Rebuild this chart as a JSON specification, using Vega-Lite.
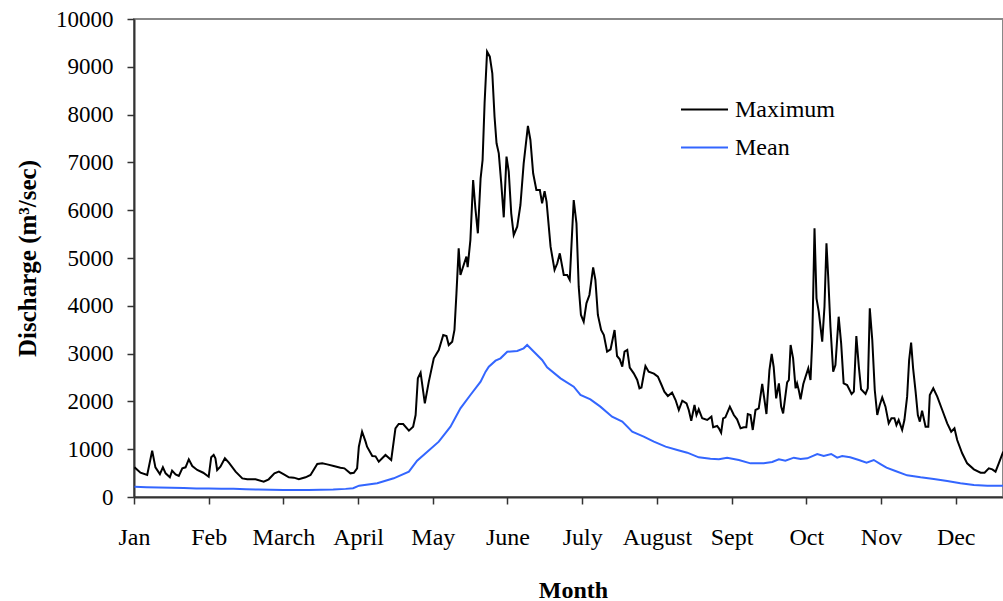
{
  "$schema": "https://vega.github.io/schema/vega-lite/v6.json",
  "width": 869,
  "height": 478,
  "autosize": {"type": "none"},
  "padding": {"left": 134, "top": 19, "right": 0, "bottom": 104},
  "background": "white",
  "config": {
    "view": {"stroke": "#888888", "strokeWidth": 2},
    "font": "Liberation Serif"
  },
  "data": {"values": [
{"series":"Maximum","day":0.2,"q":621},{"series":"Maximum","day":2.6,"q":508},{"series":"Maximum","day":5.3,"q":460},{"series":"Maximum","day":7.3,"q":969},{"series":"Maximum","day":8.6,"q":621},{"series":"Maximum","day":10.4,"q":480},{"series":"Maximum","day":11.6,"q":621},{"series":"Maximum","day":12.7,"q":495},{"series":"Maximum","day":14.4,"q":412},{"series":"Maximum","day":15.3,"q":551},{"series":"Maximum","day":16.7,"q":474},{"series":"Maximum","day":18.0,"q":440},{"series":"Maximum","day":19.4,"q":600},{"series":"Maximum","day":20.7,"q":621},{"series":"Maximum","day":22.0,"q":788},{"series":"Maximum","day":23.4,"q":649},{"series":"Maximum","day":25.4,"q":565},{"series":"Maximum","day":27.8,"q":508},{"series":"Maximum","day":30.0,"q":425},{"series":"Maximum","day":31.0,"q":830},{"series":"Maximum","day":32.0,"q":879},{"series":"Maximum","day":32.7,"q":809},{"series":"Maximum","day":33.4,"q":565},{"series":"Maximum","day":34.7,"q":635},{"series":"Maximum","day":36.5,"q":809},{"series":"Maximum","day":38.1,"q":718},{"series":"Maximum","day":40.8,"q":530},{"series":"Maximum","day":43.5,"q":390},{"series":"Maximum","day":45.5,"q":370},{"series":"Maximum","day":48.8,"q":370},{"series":"Maximum","day":52.1,"q":321},{"series":"Maximum","day":54.1,"q":370},{"series":"Maximum","day":56.4,"q":495},{"series":"Maximum","day":58.2,"q":530},{"series":"Maximum","day":60.2,"q":474},{"series":"Maximum","day":62.2,"q":412},{"series":"Maximum","day":64.2,"q":405},{"series":"Maximum","day":66.2,"q":370},{"series":"Maximum","day":68.9,"q":412},{"series":"Maximum","day":70.9,"q":460},{"series":"Maximum","day":73.6,"q":690},{"series":"Maximum","day":75.6,"q":704},{"series":"Maximum","day":77.6,"q":683},{"series":"Maximum","day":80.2,"q":649},{"series":"Maximum","day":82.9,"q":614},{"series":"Maximum","day":84.5,"q":600},{"series":"Maximum","day":86.9,"q":495},{"series":"Maximum","day":88.3,"q":508},{"series":"Maximum","day":89.6,"q":600},{"series":"Maximum","day":90.3,"q":1053},{"series":"Maximum","day":91.6,"q":1367},{"series":"Maximum","day":93.0,"q":1158},{"series":"Maximum","day":93.6,"q":1053},{"series":"Maximum","day":95.7,"q":858},{"series":"Maximum","day":97.0,"q":851},{"series":"Maximum","day":98.3,"q":739},{"series":"Maximum","day":101.0,"q":879},{"series":"Maximum","day":103.3,"q":774},{"series":"Maximum","day":105.0,"q":1437},{"series":"Maximum","day":106.3,"q":1527},{"series":"Maximum","day":108.1,"q":1527},{"series":"Maximum","day":110.4,"q":1388},{"series":"Maximum","day":112.1,"q":1472},{"series":"Maximum","day":113.1,"q":1715},{"series":"Maximum","day":114.0,"q":2483},{"series":"Maximum","day":115.1,"q":2601},{"series":"Maximum","day":116.8,"q":1960},{"series":"Maximum","day":118.4,"q":2413},{"series":"Maximum","day":120.4,"q":2901},{"series":"Maximum","day":122.4,"q":3075},{"series":"Maximum","day":124.2,"q":3389},{"series":"Maximum","day":125.5,"q":3368},{"series":"Maximum","day":126.4,"q":3180},{"series":"Maximum","day":127.8,"q":3250},{"series":"Maximum","day":128.7,"q":3494},{"series":"Maximum","day":129.5,"q":4261},{"series":"Maximum","day":130.4,"q":5202},{"series":"Maximum","day":131.1,"q":4644},{"series":"Maximum","day":132.4,"q":4854},{"series":"Maximum","day":133.5,"q":5028},{"series":"Maximum","day":134.0,"q":4808},{"series":"Maximum","day":135.1,"q":5377},{"series":"Maximum","day":136.2,"q":6632},{"series":"Maximum","day":137.1,"q":6040},{"series":"Maximum","day":138.1,"q":5517},{"series":"Maximum","day":139.2,"q":6667},{"series":"Maximum","day":140.0,"q":7050},{"series":"Maximum","day":140.8,"q":8236},{"series":"Maximum","day":141.8,"q":9316},{"series":"Maximum","day":142.9,"q":9212},{"series":"Maximum","day":143.9,"q":8864},{"series":"Maximum","day":144.8,"q":7956},{"series":"Maximum","day":145.6,"q":7399},{"series":"Maximum","day":146.5,"q":7190},{"series":"Maximum","day":147.5,"q":6562},{"series":"Maximum","day":148.5,"q":5851},{"series":"Maximum","day":149.6,"q":7120},{"series":"Maximum","day":150.5,"q":6806},{"series":"Maximum","day":151.5,"q":5935},{"series":"Maximum","day":152.5,"q":5481},{"series":"Maximum","day":153.9,"q":5655},{"series":"Maximum","day":155.2,"q":6109},{"series":"Maximum","day":156.5,"q":6981},{"series":"Maximum","day":158.2,"q":7762},{"series":"Maximum","day":159.2,"q":7469},{"series":"Maximum","day":160.3,"q":6772},{"series":"Maximum","day":161.6,"q":6423},{"series":"Maximum","day":163.0,"q":6423},{"series":"Maximum","day":163.9,"q":6144},{"series":"Maximum","day":164.9,"q":6400},{"series":"Maximum","day":165.7,"q":6175},{"series":"Maximum","day":167.3,"q":5237},{"series":"Maximum","day":168.9,"q":4749},{"series":"Maximum","day":170.0,"q":4889},{"series":"Maximum","day":171.0,"q":5098},{"series":"Maximum","day":172.6,"q":4644},{"series":"Maximum","day":174.0,"q":4644},{"series":"Maximum","day":175.0,"q":4540},{"series":"Maximum","day":176.6,"q":6213},{"series":"Maximum","day":177.7,"q":5725},{"series":"Maximum","day":178.6,"q":4400},{"series":"Maximum","day":179.5,"q":3808},{"series":"Maximum","day":180.6,"q":3668},{"series":"Maximum","day":181.7,"q":4052},{"series":"Maximum","day":182.9,"q":4226},{"series":"Maximum","day":184.4,"q":4805},{"series":"Maximum","day":185.3,"q":4540},{"series":"Maximum","day":186.3,"q":3808},{"series":"Maximum","day":187.6,"q":3494},{"series":"Maximum","day":188.7,"q":3389},{"series":"Maximum","day":190.0,"q":3040},{"series":"Maximum","day":191.4,"q":3090},{"series":"Maximum","day":193.0,"q":3494},{"series":"Maximum","day":194.0,"q":2950},{"series":"Maximum","day":195.1,"q":2880},{"series":"Maximum","day":196.1,"q":2726},{"series":"Maximum","day":197.0,"q":3040},{"series":"Maximum","day":198.1,"q":3075},{"series":"Maximum","day":199.1,"q":2706},{"series":"Maximum","day":200.7,"q":2587},{"series":"Maximum","day":202.1,"q":2448},{"series":"Maximum","day":203.0,"q":2274},{"series":"Maximum","day":203.8,"q":2290},{"series":"Maximum","day":204.7,"q":2552},{"series":"Maximum","day":205.4,"q":2741},{"series":"Maximum","day":206.7,"q":2622},{"series":"Maximum","day":208.8,"q":2580},{"series":"Maximum","day":210.4,"q":2517},{"series":"Maximum","day":211.7,"q":2364},{"series":"Maximum","day":213.0,"q":2203},{"series":"Maximum","day":214.4,"q":2113},{"series":"Maximum","day":216.1,"q":2183},{"series":"Maximum","day":217.5,"q":2029},{"series":"Maximum","day":218.8,"q":1820},{"series":"Maximum","day":220.2,"q":2015},{"series":"Maximum","day":221.9,"q":1960},{"series":"Maximum","day":222.8,"q":1820},{"series":"Maximum","day":223.8,"q":1596},{"series":"Maximum","day":225.1,"q":1925},{"series":"Maximum","day":225.9,"q":1715},{"series":"Maximum","day":226.8,"q":1834},{"series":"Maximum","day":228.2,"q":1646},{"series":"Maximum","day":230.2,"q":1611},{"series":"Maximum","day":231.9,"q":1680},{"series":"Maximum","day":232.6,"q":1458},{"series":"Maximum","day":234.2,"q":1485},{"series":"Maximum","day":234.9,"q":1437},{"series":"Maximum","day":235.8,"q":1346},{"series":"Maximum","day":236.6,"q":1646},{"series":"Maximum","day":237.5,"q":1667},{"series":"Maximum","day":239.3,"q":1890},{"series":"Maximum","day":240.9,"q":1715},{"series":"Maximum","day":242.2,"q":1625},{"series":"Maximum","day":243.6,"q":1437},{"series":"Maximum","day":244.9,"q":1458},{"series":"Maximum","day":245.9,"q":1458},{"series":"Maximum","day":246.5,"q":1736},{"series":"Maximum","day":247.6,"q":1715},{"series":"Maximum","day":248.5,"q":1402},{"series":"Maximum","day":249.6,"q":1820},{"series":"Maximum","day":250.9,"q":1855},{"series":"Maximum","day":252.3,"q":2364},{"series":"Maximum","day":254.0,"q":1736},{"series":"Maximum","day":255.2,"q":2657},{"series":"Maximum","day":256.1,"q":2992},{"series":"Maximum","day":256.9,"q":2720},{"series":"Maximum","day":257.9,"q":2064},{"series":"Maximum","day":259.0,"q":2378},{"series":"Maximum","day":259.9,"q":1890},{"series":"Maximum","day":260.7,"q":1750},{"series":"Maximum","day":262.3,"q":2400},{"series":"Maximum","day":263.0,"q":2448},{"series":"Maximum","day":263.7,"q":3180},{"series":"Maximum","day":264.7,"q":2901},{"series":"Maximum","day":265.7,"q":2274},{"series":"Maximum","day":266.3,"q":2378},{"series":"Maximum","day":267.0,"q":2231},{"series":"Maximum","day":267.7,"q":2043},{"series":"Maximum","day":268.8,"q":2364},{"series":"Maximum","day":269.7,"q":2517},{"series":"Maximum","day":270.8,"q":2692},{"series":"Maximum","day":271.7,"q":2448},{"series":"Maximum","day":272.4,"q":3285},{"series":"Maximum","day":273.3,"q":5621},{"series":"Maximum","day":274.1,"q":4157},{"series":"Maximum","day":275.0,"q":3877},{"series":"Maximum","day":276.4,"q":3250},{"series":"Maximum","day":277.3,"q":3981},{"series":"Maximum","day":278.1,"q":5307},{"series":"Maximum","day":278.8,"q":4609},{"series":"Maximum","day":279.7,"q":3563},{"series":"Maximum","day":280.8,"q":2622},{"series":"Maximum","day":281.7,"q":2762},{"series":"Maximum","day":283.0,"q":3772},{"series":"Maximum","day":284.0,"q":3215},{"series":"Maximum","day":285.0,"q":2378},{"series":"Maximum","day":286.4,"q":2343},{"series":"Maximum","day":288.2,"q":2155},{"series":"Maximum","day":289.1,"q":2203},{"series":"Maximum","day":290.1,"q":3368},{"series":"Maximum","day":291.1,"q":2726},{"series":"Maximum","day":292.0,"q":2253},{"series":"Maximum","day":293.8,"q":2155},{"series":"Maximum","day":294.7,"q":2274},{"series":"Maximum","day":295.5,"q":3947},{"series":"Maximum","day":296.5,"q":3285},{"series":"Maximum","day":297.5,"q":2238},{"series":"Maximum","day":298.5,"q":1715},{"series":"Maximum","day":299.5,"q":1925},{"series":"Maximum","day":300.5,"q":2085},{"series":"Maximum","day":301.8,"q":1890},{"series":"Maximum","day":303.1,"q":1541},{"series":"Maximum","day":304.2,"q":1646},{"series":"Maximum","day":305.4,"q":1646},{"series":"Maximum","day":306.2,"q":1506},{"series":"Maximum","day":307.1,"q":1611},{"series":"Maximum","day":308.5,"q":1402},{"series":"Maximum","day":309.4,"q":1611},{"series":"Maximum","day":310.5,"q":2099},{"series":"Maximum","day":311.3,"q":2866},{"series":"Maximum","day":312.1,"q":3229},{"series":"Maximum","day":312.9,"q":2692},{"series":"Maximum","day":313.9,"q":2203},{"series":"Maximum","day":314.8,"q":1715},{"series":"Maximum","day":315.6,"q":1576},{"series":"Maximum","day":316.5,"q":1806},{"series":"Maximum","day":317.9,"q":1471},{"series":"Maximum","day":319.0,"q":1471},{"series":"Maximum","day":319.6,"q":2134},{"series":"Maximum","day":321.0,"q":2274},{"series":"Maximum","day":322.6,"q":2099},{"series":"Maximum","day":324.6,"q":1820},{"series":"Maximum","day":326.6,"q":1541},{"series":"Maximum","day":328.2,"q":1367},{"series":"Maximum","day":329.5,"q":1437},{"series":"Maximum","day":330.6,"q":1192},{"series":"Maximum","day":332.6,"q":914},{"series":"Maximum","day":334.6,"q":704},{"series":"Maximum","day":337.3,"q":579},{"series":"Maximum","day":340.0,"q":509},{"series":"Maximum","day":341.6,"q":509},{"series":"Maximum","day":343.3,"q":600},{"series":"Maximum","day":344.7,"q":579},{"series":"Maximum","day":346.0,"q":530},{"series":"Maximum","day":347.3,"q":704},{"series":"Maximum","day":349.1,"q":948},
{"series":"Mean","day":0.2,"q":215},{"series":"Mean","day":5,"q":205},{"series":"Mean","day":10,"q":200},{"series":"Mean","day":15,"q":195},{"series":"Mean","day":20,"q":190},{"series":"Mean","day":25,"q":180},{"series":"Mean","day":30,"q":178},{"series":"Mean","day":35,"q":175},{"series":"Mean","day":40,"q":170},{"series":"Mean","day":45,"q":162},{"series":"Mean","day":50,"q":158},{"series":"Mean","day":55,"q":150},{"series":"Mean","day":60,"q":146},{"series":"Mean","day":65,"q":145},{"series":"Mean","day":70,"q":148},{"series":"Mean","day":75,"q":150},{"series":"Mean","day":80,"q":155},{"series":"Mean","day":85,"q":170},{"series":"Mean","day":88,"q":185},{"series":"Mean","day":90.4,"q":237},{"series":"Mean","day":97.7,"q":286},{"series":"Mean","day":104.3,"q":391},{"series":"Mean","day":110.4,"q":530},{"series":"Mean","day":113.7,"q":760},{"series":"Mean","day":117.8,"q":948},{"series":"Mean","day":122.4,"q":1158},{"series":"Mean","day":127.1,"q":1471},{"series":"Mean","day":131.1,"q":1855},{"series":"Mean","day":135.1,"q":2134},{"series":"Mean","day":139.2,"q":2413},{"series":"Mean","day":141.2,"q":2622},{"series":"Mean","day":142.5,"q":2726},{"series":"Mean","day":145.2,"q":2852},{"series":"Mean","day":147.2,"q":2901},{"series":"Mean","day":149.9,"q":3040},{"series":"Mean","day":153.9,"q":3054},{"series":"Mean","day":156.5,"q":3110},{"series":"Mean","day":157.9,"q":3180},{"series":"Mean","day":160.6,"q":3040},{"series":"Mean","day":163.9,"q":2866},{"series":"Mean","day":165.9,"q":2713},{"series":"Mean","day":171.3,"q":2483},{"series":"Mean","day":176.6,"q":2308},{"series":"Mean","day":179.3,"q":2134},{"series":"Mean","day":183.3,"q":2043},{"series":"Mean","day":187.3,"q":1890},{"series":"Mean","day":192.0,"q":1680},{"series":"Mean","day":196.1,"q":1576},{"series":"Mean","day":200.1,"q":1367},{"series":"Mean","day":204.7,"q":1262},{"series":"Mean","day":208.8,"q":1158},{"series":"Mean","day":213.5,"q":1053},{"series":"Mean","day":218.2,"q":983},{"series":"Mean","day":222.2,"q":927},{"series":"Mean","day":226.8,"q":830},{"series":"Mean","day":231.5,"q":802},{"series":"Mean","day":234.9,"q":788},{"series":"Mean","day":238.2,"q":823},{"series":"Mean","day":242.9,"q":774},{"series":"Mean","day":247.6,"q":704},{"series":"Mean","day":252.9,"q":704},{"series":"Mean","day":256.3,"q":732},{"series":"Mean","day":259.0,"q":788},{"series":"Mean","day":261.6,"q":760},{"series":"Mean","day":265.0,"q":823},{"series":"Mean","day":267.7,"q":795},{"series":"Mean","day":270.4,"q":809},{"series":"Mean","day":274.4,"q":900},{"series":"Mean","day":277.0,"q":858},{"series":"Mean","day":280.0,"q":900},{"series":"Mean","day":282.4,"q":823},{"series":"Mean","day":284.4,"q":858},{"series":"Mean","day":287.6,"q":830},{"series":"Mean","day":291.1,"q":774},{"series":"Mean","day":294.2,"q":718},{"series":"Mean","day":297.1,"q":774},{"series":"Mean","day":299.8,"q":690},{"series":"Mean","day":302.2,"q":614},{"series":"Mean","day":305.8,"q":544},{"series":"Mean","day":310.5,"q":453},{"series":"Mean","day":315.9,"q":411},{"series":"Mean","day":321.2,"q":377},{"series":"Mean","day":326.6,"q":335},{"series":"Mean","day":331.9,"q":286},{"series":"Mean","day":337.3,"q":251},{"series":"Mean","day":342.7,"q":237},{"series":"Mean","day":349.1,"q":237}
  ]},
  "mark": {"type": "line", "strokeWidth": 2, "clip": true},
  "encoding": {
    "x": {
      "field": "day", "type": "quantitative",
      "scale": {"domain": [0, 349], "nice": false, "zero": false},
      "axis": {
        "values": [0, 30, 60, 90, 120, 150, 180, 210, 240, 270, 300, 330],
        "labelExpr": "['Jan','Feb','March','April','May','June','July','August','Sept','Oct','Nov','Dec'][round(datum.value/30)]",
        "grid": false,
        "domainColor": "#333333", "domainWidth": 2,
        "tickColor": "#333333", "tickWidth": 1.5, "tickSize": 7,
        "labelFont": "Liberation Serif", "labelFontSize": 24, "labelColor": "#000000",
        "labelBaseline": "alphabetic", "labelPadding": 40, "labelFlush": false, "labelOverlap": false,
        "title": "Month", "titleFont": "Liberation Serif", "titleFontSize": 24, "titleFontWeight": "bold",
        "titleColor": "#000000", "titleX": 439, "titleY": 100, "titleBaseline": "alphabetic", "titleAlign": "center", "titleAnchor": null
      }
    },
    "y": {
      "field": "q", "type": "quantitative",
      "scale": {"domain": [0, 10000], "nice": false},
      "axis": {
        "values": [0, 1000, 2000, 3000, 4000, 5000, 6000, 7000, 8000, 9000, 10000],
        "format": "d",
        "grid": false,
        "domainColor": "#333333", "domainWidth": 2,
        "tickColor": "#333333", "tickWidth": 1.5, "tickSize": 7,
        "labelFont": "Liberation Serif", "labelFontSize": 23, "labelColor": "#000000",
        "labelPadding": 14, "labelFlush": false, "labelOverlap": false,
        "title": "Discharge (m³/sec)", "titleFont": "Liberation Serif", "titleFontSize": 25, "titleFontWeight": "bold",
        "titleColor": "#000000", "titleAngle": -90, "titleX": -99, "titleY": 239, "titleBaseline": "alphabetic", "titleAlign": "center", "titleAnchor": null
      }
    },
    "color": {
      "field": "series", "type": "nominal",
      "scale": {"domain": ["Maximum", "Mean"], "range": ["#000000", "#3366ff"]},
      "legend": {
        "orient": "none", "legendX": 546, "legendY": 66, "title": null, "padding": 0,
        "symbolType": "stroke", "symbolSize": 2209, "symbolStrokeWidth": 2,
        "labelFont": "Liberation Serif", "labelFontSize": 24, "labelColor": "#000000",
        "labelOffset": 6, "rowPadding": 1
      }
    }
  }
}
